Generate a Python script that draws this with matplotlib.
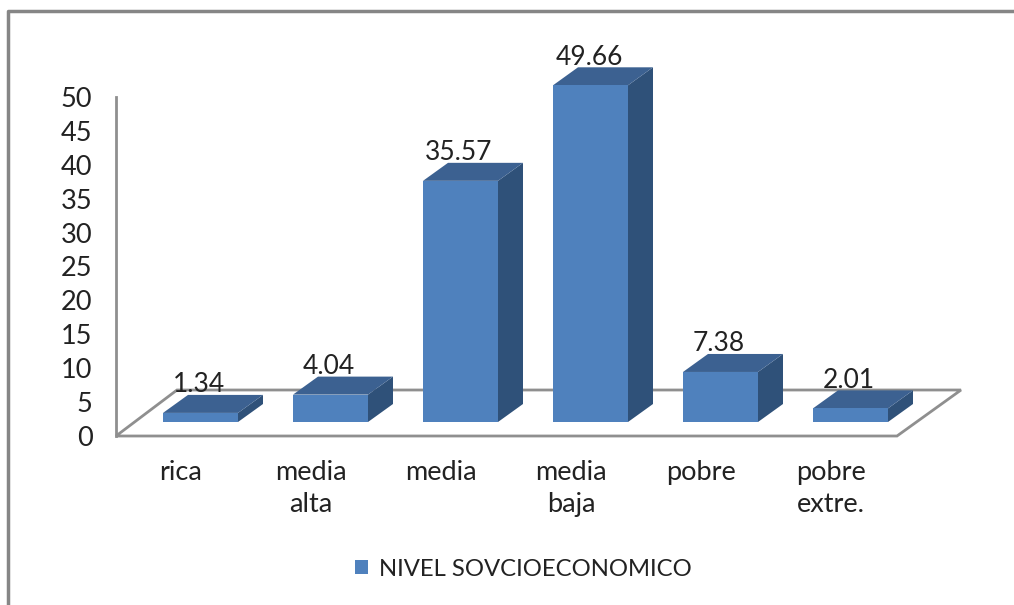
import matplotlib
matplotlib.use('Agg')
import matplotlib.pyplot as plt
from matplotlib.patches import Polygon, Rectangle
from matplotlib.lines import Line2D

categorias = ['rica', 'media\nalta', 'media', 'media\nbaja', 'pobre', 'pobre\nextre.']
valores = [1.34, 4.04, 35.57, 49.66, 7.38, 2.01]
ticks_y = [0, 5, 10, 15, 20, 25, 30, 35, 40, 45, 50]
serie = 'NIVEL SOVCIOECONOMICO'

plt.rcParams['font.family'] = ['Lato', 'DejaVu Sans']

W, H = 1014, 605
fig = plt.figure(figsize=(W / 100, H / 100), dpi=100)
fig.patch.set_facecolor('white')

# axes box = the front edge of the floor and the wall line, in pixels
left, right, top, bottom = 116, 896, 97, 436
ax = fig.add_axes([left / W, 1 - bottom / H, (right - left) / W, (bottom - top) / H])
ax.set_xlim(-0.5, 5.5)
ax.set_ylim(0, 50)
ax.patch.set_visible(False)

px_x = 6 / (right - left)
px_y = 50 / (bottom - top)

gris = '#8f8f8f'
frente = '#4f81bd'
arriba = '#3c6191'
lado = '#2f5179'

# floor
piso_dy = 46 * px_y
x0, x1 = -0.5, 5.5 + 1 * px_x
ax.add_patch(Polygon([(x0, 0), (x1, 0), (x1 + 64 * px_x, piso_dy), (x0 + 61 * px_x, piso_dy)],
                     closed=True, fill=False, edgecolor=gris, lw=2, clip_on=False, zorder=1))

# bars
base = 14 * px_y
ancho = 75 * px_x
dx, dy = 25 * px_x, 18 * px_y
despl = 19.5 * px_x
for i, v in enumerate(valores):
    xa = i + despl - ancho / 2
    xb = xa + ancho
    yt = base + v
    ax.add_patch(Polygon([(xb, base), (xb + dx, base + dy), (xb + dx, yt + dy), (xb, yt)],
                         closed=True, facecolor=lado, edgecolor='none', clip_on=False, zorder=2))
    ax.add_patch(Polygon([(xa, yt), (xb, yt), (xb + dx, yt + dy), (xa + dx, yt + dy)],
                         closed=True, facecolor=arriba, edgecolor='none', clip_on=False, zorder=2))
    ax.add_patch(Rectangle((xa, base), ancho, v, facecolor=frente, edgecolor='none',
                           clip_on=False, zorder=3))
    ax.text(i + despl - 1.5 * px_x, yt + dy + 2.5 * px_y, f'{v:.2f}', ha='center', va='baseline',
            fontsize=19, color='#222222', zorder=5)

for s in ['top', 'right', 'bottom']:
    ax.spines[s].set_visible(False)
ax.spines['left'].set_color(gris)
ax.spines['left'].set_linewidth(2)

ax.set_xticks(range(len(categorias)))
ax.set_xticklabels(categorias, fontsize=19.5, color='#222222', linespacing=1.32)
ax.set_yticks(ticks_y)
ax.tick_params(axis='y', labelsize=19.5, length=0, pad=17, labelcolor='#222222')
ax.tick_params(axis='x', length=0, pad=17.5)

# outer frame of the chart, cut by the image edges
fig.add_artist(Line2D([8 / W, 8 / W, 1], [0, 1 - 11 / H, 1 - 11 / H], color='#868686', lw=2.5))

handle = Rectangle((0, 0), 1, 1, facecolor=frente, edgecolor='none')
fig.legend([handle], [serie], loc='center', bbox_to_anchor=(523 / W, 1 - 569 / H), frameon=False,
           fontsize=17.2, handlelength=0.58, handleheight=0.58, handletextpad=0.43, labelcolor='#222222')

fig.savefig('out.png', dpi=100)
